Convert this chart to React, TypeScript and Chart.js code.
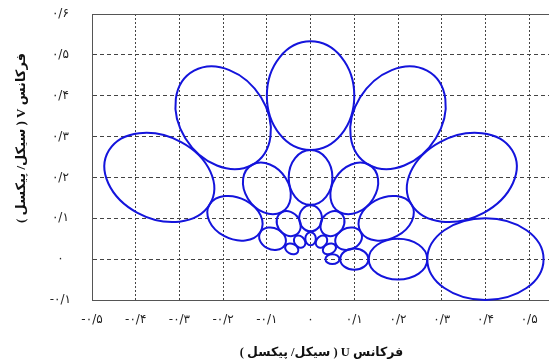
import React, { useEffect, useRef } from "react";
import { Chart, registerables } from "chart.js";

Chart.register(...registerables);

// Axis ticks
const xTickValues = [-0.5, -0.4, -0.3, -0.2, -0.1, 0, 0.1, 0.2, 0.3, 0.4, 0.5];
const xTickLabels = ["-۰/۵", "-۰/۴", "-۰/۳", "-۰/۲", "-۰/۱", "۰", "۰/۱", "۰/۲", "۰/۳", "۰/۴", "۰/۵"];
const yTickValues = [-0.1, 0, 0.1, 0.2, 0.3, 0.4, 0.5, 0.6];
const yTickLabels = ["-۰/۱", "۰", "۰/۱", "۰/۲", "۰/۳", "۰/۴", "۰/۵", "۰/۶"];

const xTitle = "فرکانس U ( سیکل/ پیکسل )";
const yTitle = "فرکانس V ( سیکل/ پیکسل )";

// Ellipses (filter bank): centre (U, V), semi-axes, orientation
const centerU = [
  0.4, 0.346, 0.2, 0.0, -0.2, -0.346,
  0.2, 0.173, 0.1, 0.0, -0.1, -0.173,
  0.1, 0.087, 0.05, 0.0, -0.05, -0.087,
  0.05, 0.043, 0.025, 0.0, -0.025, -0.043,
];
const centerV = [
  0.0, 0.2, 0.346, 0.4, 0.346, 0.2,
  0.0, 0.1, 0.173, 0.2, 0.173, 0.1,
  0.0, 0.05, 0.087, 0.1, 0.087, 0.05,
  0.0, 0.025, 0.043, 0.05, 0.043, 0.025,
];
const radialSemiAxis = [
  0.133, 0.133, 0.133, 0.133, 0.133, 0.133,
  0.067, 0.067, 0.067, 0.067, 0.067, 0.067,
  0.032, 0.032, 0.032, 0.032, 0.032, 0.032,
  0.016, 0.016, 0.016, 0.016, 0.016, 0.016,
];
const tangentialSemiAxis = [
  0.1, 0.1, 0.1, 0.1, 0.1, 0.1,
  0.05, 0.05, 0.05, 0.05, 0.05, 0.05,
  0.026, 0.026, 0.026, 0.026, 0.026, 0.026,
  0.012, 0.012, 0.012, 0.012, 0.012, 0.012,
];
const orientationDeg = [
  0, 30, 60, 90, 120, 150,
  0, 30, 60, 90, 120, 150,
  0, 30, 60, 90, 120, 150,
  0, 30, 60, 90, 120, 150,
];

const RLE = "\u202B";
const PDF = "\u202C";

const ellipsePlugin = {
  id: "ellipses",
  afterDatasetsDraw(chart: any) {
    const ds = chart.data.datasets[0];
    const xs = chart.scales.x;
    const ys = chart.scales.y;
    const sx = Math.abs(xs.getPixelForValue(1) - xs.getPixelForValue(0));
    const sy = Math.abs(ys.getPixelForValue(1) - ys.getPixelForValue(0));
    const ctx = chart.ctx;
    ctx.save();
    ctx.strokeStyle = ds.borderColor;
    ctx.lineWidth = ds.borderWidth;
    ds.data.forEach((p: any) => {
      const cx = xs.getPixelForValue(p.x);
      const cy = ys.getPixelForValue(p.y);
      ctx.beginPath();
      ctx.save();
      ctx.translate(cx, cy);
      ctx.scale(sx, -sy);
      ctx.rotate((p.angle * Math.PI) / 180);
      ctx.ellipse(0, 0, p.a, p.b, 0, 0, Math.PI * 2);
      ctx.restore();
      ctx.stroke();
    });
    ctx.restore();
  },
};

const framePlugin = {
  id: "frameTop",
  afterDraw(chart: any) {
    const { ctx, chartArea } = chart;
    ctx.save();
    ctx.strokeStyle = "#555";
    ctx.lineWidth = 1;
    ctx.beginPath();
    ctx.moveTo(chartArea.left, chartArea.top + 0.5);
    ctx.lineTo(chartArea.right, chartArea.top + 0.5);
    ctx.stroke();
    // vertical axis title
    ctx.translate(22, 138);
    ctx.rotate(-Math.PI / 2);
    ctx.fillStyle = "#111";
    ctx.font = "bold 13px 'Liberation Serif', 'DejaVu Sans'";
    ctx.textAlign = "center";
    ctx.textBaseline = "middle";
    ctx.fillText(RLE + yTitle + PDF, 0, 0);
    ctx.restore();
  },
};

function labelFor(values: number[], labels: string[], v: number) {
  let best = 0;
  for (let i = 0; i < values.length; i++) {
    if (Math.abs(values[i] - v) < Math.abs(values[best] - v)) best = i;
  }
  return labels[best];
}

export default function App() {
  const ref = useRef<HTMLCanvasElement | null>(null);
  useEffect(() => {
    if (!ref.current) return;
    const data = centerU.map((u, i) => ({
      x: u,
      y: centerV[i],
      a: radialSemiAxis[i],
      b: tangentialSemiAxis[i],
      angle: orientationDeg[i],
    }));
    const chart = new Chart(ref.current, {
      type: "scatter",
      data: {
        datasets: [
          {
            data,
            borderColor: "#1414dc",
            borderWidth: 2,
            pointRadius: 0,
            pointHoverRadius: 0,
          } as any,
        ],
      },
      options: {
        responsive: false,
        animation: false,
        events: [],
        layout: { padding: { top: 14, left: 0, right: 0, bottom: 0 } },
        plugins: { legend: { display: false }, tooltip: { enabled: false } },
        scales: {
          x: {
            type: "linear",
            min: -0.5,
            max: 0.55,
            afterBuildTicks: (s: any) => {
              s.ticks = xTickValues.map((v) => ({ value: v }));
            },
            afterFit: (s: any) => {
              s.height = 61;
            },
            grid: { color: "#444", lineWidth: 1, drawTicks: false },
            border: { display: true, color: "#555", width: 1, dash: [2, 2] },
            ticks: {
              padding: 13,
              color: "#222",
              font: { family: "'DejaVu Sans'", size: 12 },
              maxRotation: 0,
              autoSkip: false,
              callback: (v: any) => labelFor(xTickValues, xTickLabels, Number(v)),
            },
            title: {
              display: true,
              text: RLE + xTitle + PDF,
              color: "#111",
              font: { family: "'Liberation Serif', 'DejaVu Sans'", size: 12.5, weight: "bold" },
              padding: { top: 0, bottom: 1 },
            },
          },
          y: {
            type: "linear",
            min: -0.1,
            max: 0.6,
            afterBuildTicks: (s: any) => {
              s.ticks = yTickValues.map((v) => ({ value: v }));
            },
            afterFit: (s: any) => {
              s.width = 92;
              s.paddingTop = 0;
              s.paddingBottom = 0;
            },
            grid: { color: "#444", lineWidth: 1, drawTicks: false },
            border: { display: true, color: "#555", width: 1, dash: [4, 3] },
            ticks: {
              padding: 21,
              crossAlign: "center",
              color: "#222",
              font: { family: "'DejaVu Sans'", size: 12 },
              autoSkip: false,
              callback: (v: any) => labelFor(yTickValues, yTickLabels, Number(v)),
            },
            title: { display: false },
          },
        },
      },
      plugins: [ellipsePlugin, framePlugin],
    } as any);
    return () => chart.destroy();
  }, []);

  return (
    <div
      style={{
        position: "fixed",
        left: 0,
        top: 0,
        width: 549,
        height: 361,
        overflow: "hidden",
        background: "#fff",
      }}
    >
      <canvas ref={ref} width={551} height={361} style={{ display: "block" }} />
    </div>
  );
}
